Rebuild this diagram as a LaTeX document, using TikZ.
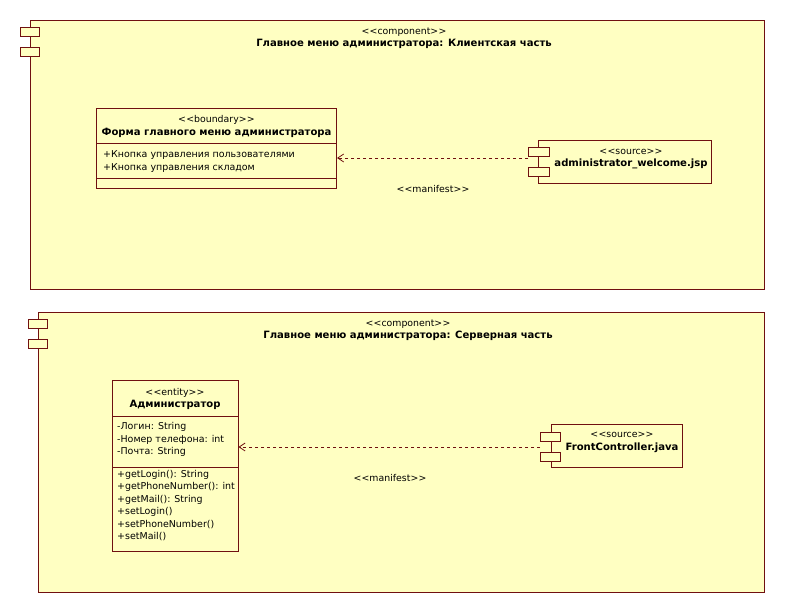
\documentclass[tikz,border=0pt]{standalone}
\usepackage{fontspec}
\setmainfont{DejaVu Sans}[Ligatures=NoCommon]
\usetikzlibrary{arrows.meta}
\definecolor{umlfill}{HTML}{FFFFC2}
\definecolor{umlline}{HTML}{701010}
\tikzset{
  frame/.style={draw=umlline, fill=umlfill, line width=0.9bp, rectangle, inner sep=0pt},
  tab/.style={draw=umlline, fill=umlfill, line width=0.9bp, rectangle, inner sep=0pt,
              minimum width=19bp, minimum height=9bp},
  sep/.style={draw=umlline, line width=0.9bp},
  stereo/.style={inner sep=0pt, font=\fontsize{9.4}{11}\selectfont},
  title/.style={inner sep=0pt, font=\fontsize{10.1}{12}\selectfont\bfseries},
  member/.style={inner sep=0pt, anchor=west, font=\fontsize{9.5}{11}\selectfont},
  dep/.style={draw=umlline, line width=0.7bp, dash pattern=on 3bp off 3bp,
              -{Straight Barb[length=6bp,width=8bp,line width=0.8bp]}},
}
% stereotype label with spaced angle brackets
\newcommand{\stype}[1]{\textless\kern0.3pt\textless#1\textgreater\kern0.3pt\textgreater}
\newcommand{\boxat}[5]{% name, x1, y1, x2, y2
  \node[frame, anchor=north west, minimum width=#4-#2, minimum height=#5-#3] (#1) at (#2,#3) {};}
\begin{document}
\begin{tikzpicture}[x=1bp,y=-1bp]
\useasboundingbox (0,0) rectangle (787,615);
\fill[white] (0,0) rectangle (787,615);

% ---------- client side component ----------
\boxat{client}{30}{20}{767}{290}
\node[tab, anchor=north west] (clientTabA) at (20,27) {};
\node[tab, anchor=north west] (clientTabB) at (20,47) {};
\node[stereo] (clientSt) at (404,32) {\stype{component}};
\node[title] (clientName) at (404,44) {Главное меню администратора: Клиентская часть};

% boundary class
\boxat{form}{96}{108}{337}{188}
\draw[sep] (96,143) -- (337,143);
\draw[sep] (96,178) -- (337,178);
\node[stereo] (formSt) at (216.5,120) {\stype{boundary}};
\node[title] (formName) at (216.5,133) {Форма главного меню администратора};
\node[member] (formA1) at (103,155) {+Кнопка управления пользователями};
\node[member] (formA2) at (103,168) {+Кнопка управления складом};

% jsp source component
\boxat{jsp}{538}{140}{712}{183}
\node[tab, anchor=north west, minimum width=21bp] (jspTabA) at (528,147) {};
\node[tab, anchor=north west, minimum width=21bp] (jspTabB) at (528,167) {};
\node[stereo] (jspSt) at (631,152) {\stype{source}};
\node[title] (jspName) at (631,164) {administrator\_welcome.jsp};

\coordinate (jspEnd) at (jspTabA.west |- 0,158);
\draw[dep] (jspEnd) -- (jspEnd -| form.east);
\node[stereo] (manifestA) at (433,189) {\stype{manifest}};

% ---------- server side component ----------
\boxat{server}{38}{312}{767}{593}
\node[tab, anchor=north west] (serverTabA) at (28,319) {};
\node[tab, anchor=north west] (serverTabB) at (28,339) {};
\node[stereo] (serverSt) at (408,324) {\stype{component}};
\node[title] (serverName) at (408,336) {Главное меню администратора: Серверная часть};

% entity class
\boxat{admin}{112}{380}{238}{552}
\draw[sep] (112,416) -- (238,416);
\draw[sep] (112,467) -- (238,467);
\node[stereo] (adminSt) at (175,393) {\stype{entity}};
\node[title] (adminName) at (175,405) {Администратор};
\node[member] (adminA1) at (117,427) {-Логин: String};
\node[member] (adminA2) at (117,439.5) {-Номер телефона: int};
\node[member] (adminA3) at (117,452) {-Почта: String};
\node[member] (adminM1) at (117,474.5) {+getLogin(): String};
\node[member] (adminM2) at (117,487) {+getPhoneNumber(): int};
\node[member] (adminM3) at (117,499.5) {+getMail(): String};
\node[member] (adminM4) at (117,512) {+setLogin()};
\node[member] (adminM5) at (117,524.5) {+setPhoneNumber()};
\node[member] (adminM6) at (117,537) {+setMail()};

% java source component
\boxat{java}{551}{424}{682}{467}
\node[tab, anchor=north west, minimum width=20bp] (javaTabA) at (540,432) {};
\node[tab, anchor=north west, minimum width=20bp] (javaTabB) at (540,452) {};
\node[stereo] (javaSt) at (622,435) {\stype{source}};
\node[title] (javaName) at (622,448) {FrontController.java};

\coordinate (javaEnd) at (javaTabA.west |- 0,447);
\draw[dep] (javaEnd) -- (javaEnd -| admin.east);
\node[stereo] (manifestB) at (390,478) {\stype{manifest}};
\end{tikzpicture}
\end{document}
